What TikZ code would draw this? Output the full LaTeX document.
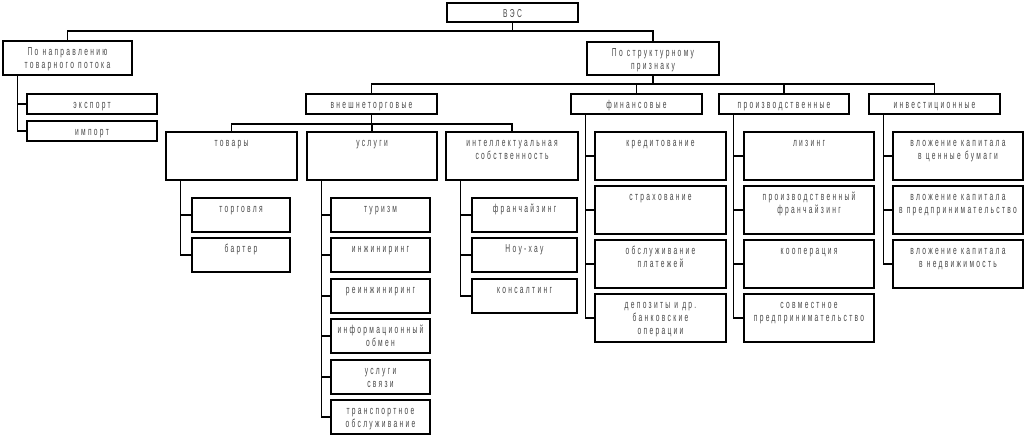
\documentclass[tikz,border=0pt]{standalone}
\usepackage{fontspec}
\newfontfamily\diafont[FakeStretch=0.58,LetterSpace=20]{Liberation Sans}
\begin{document}
\begin{tikzpicture}[x=1pt,y=-1pt,line width=1.1pt,
  box/.style={draw,inner sep=0pt,minimum width=131pt,minimum height=#1},
  box/.default=48pt,
  txt/.style={anchor=north,inner sep=0pt,yshift=-6pt,align=center,text=black!72,
    font=\diafont\fontsize{11.5}{13}\selectfont},
  lbl/.style={label={[txt]north:\rule{0pt}{8.5pt}#1}}]
 \useasboundingbox (0,0) rectangle (1025,436);
 \coordinate (bus1) at (0,31);
 \coordinate (bus2) at (0,84);
 \coordinate (bus3) at (0,124);
 % top
 \node[box=19pt,lbl={ВЭС}] (ves) at (512.5,12.5) {};
 \node[box=34pt,minimum width=129pt,lbl={По направлению\\товарного потока}] (napr) at (67.5,58) {};
 \node[box=33pt,minimum width=132pt,lbl={По структурному\\признаку}] (strukt) at (653,58.5) {};
 \node[box=20pt,minimum width=130pt,lbl={экспорт}] (eksport) at (92,104) {};
 \node[box=20pt,minimum width=130pt,lbl={импорт}] (imp) at (92,131) {};
 % second row
 \node[box=20pt,lbl={внешнеторговые}] (vnesh) at (371.5,104) {};
 \node[box=20pt,lbl={финансовые}] (fin) at (636.5,104) {};
 \node[box=20pt,minimum width=130pt,lbl={производственные}] (proizv) at (784,104) {};
 \node[box=20pt,lbl={инвестиционные}] (invest) at (934.5,104) {};
 % foreign trade
 \node[box,lbl={товары}] (tovary) at (231.5,156) {};
 \node[box,minimum width=130pt,lbl={услуги}] (uslugi) at (372,156) {};
 \node[box,minimum width=132pt,lbl={интеллектуальная\\собственность}] (intel) at (512,156) {};
 \node[box=34pt,minimum width=98pt,lbl={торговля}] (torg) at (241,215) {};
 \node[box=34pt,minimum width=98pt,lbl={бартер}] (barter) at (241,255) {};
 \node[box=34pt,minimum width=99pt,lbl={туризм}] (turizm) at (380.5,215) {};
 \node[box=34pt,minimum width=99pt,lbl={инжиниринг}] (inzh) at (380.5,255) {};
 \node[box=34pt,minimum width=99pt,lbl={реинжиниринг}] (reinzh) at (380.5,296) {};
 \node[box=34pt,minimum width=99pt,lbl={информационный\\обмен}] (inform) at (380.5,336) {};
 \node[box=34pt,minimum width=99pt,lbl={услуги\\связи}] (svyaz) at (380.5,377) {};
 \node[box=34pt,minimum width=99pt,lbl={транспортное\\обслуживание}] (transp) at (380.5,417) {};
 \node[box=34pt,minimum width=105pt,lbl={франчайзинг}] (franch) at (524.5,215) {};
 \node[box=34pt,minimum width=105pt,lbl={Ноу-хау}] (nouhau) at (524.5,255) {};
 \node[box=34pt,minimum width=105pt,lbl={консалтинг}] (konsalt) at (524.5,296) {};
 % finance, production, investment
 \node[box,lbl={кредитование}] (kredit) at (660.5,156) {};
 \node[box,lbl={страхование}] (strakh) at (660.5,210) {};
 \node[box,lbl={обслуживание\\платежей}] (plat) at (660.5,264) {};
 \node[box,lbl={депозиты и др.\\банковские\\операции}] (depoz) at (660.5,318) {};
 \node[box,minimum width=130pt,lbl={лизинг}] (lizing) at (809,156) {};
 \node[box,minimum width=130pt,lbl={производственный\\франчайзинг}] (pfranch) at (809,210) {};
 \node[box,minimum width=130pt,lbl={кооперация}] (koop) at (809,264) {};
 \node[box,minimum width=130pt,lbl={совместное\\предпринимательство}] (sovm) at (809,318) {};
 \node[box,minimum width=130pt,lbl={вложение капитала\\в ценные бумаги}] (vkl1) at (958,156) {};
 \node[box,minimum width=130pt,lbl={вложение капитала\\в предпринимательство}] (vkl2) at (958,210) {};
 \node[box,minimum width=130pt,lbl={вложение капитала\\в недвижимость}] (vkl3) at (958,264) {};
 % connectors
 \draw (ves) -- (ves |- bus1);
 \draw (napr.north) |- (ves |- bus1) -| (strukt.north);
 \draw (strukt) -- (strukt |- bus2);
 \draw (vnesh.north) |- (strukt |- bus2) -| (invest.north);
 \foreach \b in {fin,proizv} \draw (\b.north) -- (\b |- bus2);
 \draw (vnesh) -- (vnesh |- bus3);
 \draw (tovary.north) |- (vnesh |- bus3) -| (intel.north);
 \draw (uslugi.north) -- (uslugi |- bus3);
 \foreach \p/\c in {napr/eksport,napr/imp,tovary/torg,tovary/barter,
   uslugi/turizm,uslugi/inzh,uslugi/reinzh,uslugi/inform,uslugi/svyaz,uslugi/transp,
   intel/franch,intel/nouhau,intel/konsalt,fin/kredit,fin/strakh,fin/plat,fin/depoz,
   proizv/lizing,proizv/pfranch,proizv/koop,proizv/sovm,invest/vkl1,invest/vkl2,invest/vkl3}
  \draw ([xshift=15pt]\p.south west) |- (\c.west);
\end{tikzpicture}
\end{document}
